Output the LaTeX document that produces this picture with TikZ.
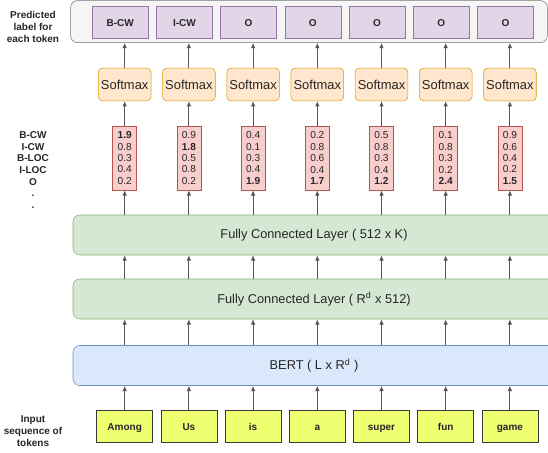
\documentclass[tikz,border=0pt]{standalone}
\usepackage{fontspec}
\setmainfont{Liberation Sans}
\usetikzlibrary{arrows.meta}

\definecolor{outerfill}{HTML}{F5F5F5}
\definecolor{labfill}{HTML}{E1D5E7}
\definecolor{labdraw}{HTML}{9673A6}
\definecolor{softfill}{HTML}{FFE6CC}
\definecolor{softdraw}{HTML}{D79B00}
\definecolor{vecfill}{HTML}{F8CECC}
\definecolor{vecdraw}{HTML}{B85450}
\definecolor{fcfill}{HTML}{D5E8D4}
\definecolor{fcdraw}{HTML}{82B366}
\definecolor{bertfill}{HTML}{DAE8FC}
\definecolor{bertdraw}{HTML}{6C8EBF}
\definecolor{tokfill}{HTML}{EEFF70}
\definecolor{tokdraw}{HTML}{36393D}

\tikzset{
    lab/.style={draw=labdraw, fill=labfill, minimum width=42pt, minimum height=24pt, inner sep=0pt, text height=1.6ex, text depth=0.3ex, font=\bfseries\fontsize{7.5}{9}\selectfont},
    soft/.style={draw=softdraw, fill=softfill, rounded corners=3pt, minimum width=39.5pt, minimum height=24.5pt, inner sep=0pt, font=\fontsize{9.7}{11}\selectfont},
    vec/.style={draw=vecdraw, fill=vecfill, minimum width=18pt, minimum height=48pt, inner sep=0pt, align=center, font=\fontsize{7.6}{8.6}\selectfont},
    layer/.style={rounded corners=5pt, minimum width=361.5pt, minimum height=30pt, inner sep=0pt, font=\fontsize{9.6}{11}\selectfont},
    tok/.style={draw=tokdraw, fill=tokfill, minimum width=42pt, minimum height=24pt, inner sep=0pt, text height=1.6ex, text depth=0.3ex, font=\bfseries\fontsize{7.5}{9}\selectfont},
    side/.style={align=center, font=\bfseries\fontsize{7.5}{8.8}\selectfont},
    arr/.style={draw=black!65, line width=0.75pt, -{Latex[length=4pt,width=3.5pt,fill=black]}}
}

\begin{document}
\begin{tikzpicture}[x=0.75pt, y=-0.75pt, color=black!85]
    \useasboundingbox (0,0) rectangle (548,452);

    % Predicted labels
    \node[draw=black!55, fill=outerfill, rounded corners=5pt, minimum width=357.5pt, minimum height=31.5pt, inner sep=0pt] (out) at (309,21.6) {};
    \node[side] (predtxt) at (33,27) {Predicted\\label for\\each token};

    % Layers
    \node[layer, draw=fcdraw, fill=fcfill] (fcK) at (314,235) {Fully Connected Layer ( 512 x K)};
    \node[layer, draw=fcdraw, fill=fcfill] (fcR) at (314,299) {Fully Connected Layer ( R\textsuperscript{d} x 512)};
    \node[layer, draw=bertdraw, fill=bertfill] (bert) at (314,365.5) {BERT ( L x R\textsuperscript{d} )};

    % Class names and input tokens
    \node[side] (classes) at (33,170) {B-CW\\I-CW\\B-LOC\\I-LOC\\O\\.\\.};
    \node[side] (inptxt) at (33,431) {Input\\sequence of\\tokens};

    \foreach \lb/\tk/\vals [count=\i from 0] in {
        B-CW/Among/{\textbf{1.9}\\0.8\\0.3\\0.4\\0.2},
        I-CW/Us/{0.9\\\textbf{1.8}\\0.5\\0.8\\0.2},
        O/is/{0.4\\0.1\\0.3\\0.4\\\textbf{1.9}},
        O/a/{0.2\\0.8\\0.6\\0.4\\\textbf{1.7}},
        O/super/{0.5\\0.8\\0.3\\0.4\\\textbf{1.2}},
        O/fun/{0.1\\0.8\\0.3\\0.2\\\textbf{2.4}},
        O/game/{0.9\\0.6\\0.4\\0.2\\\textbf{1.5}}} {
        \pgfmathsetmacro{\cx}{124.7+64.2*\i}
        \node[lab] (lab\i) at (\cx-4.5,22) {\lb};
        \node[soft] (soft\i) at (\cx,84.5) {Softmax};
        \node[vec] (vec\i) at (\cx,158) {\vals};
        \node[tok] (tok\i) at (\cx,426) {\tk};
        % Connections
        \draw[arr] (tok\i.north) -- (tok\i.north |- bert.south);
        \draw[arr] (tok\i.north |- bert.north) -- (tok\i.north |- fcR.south);
        \draw[arr] (tok\i.north |- fcR.north) -- (tok\i.north |- fcK.south);
        \draw[arr] (vec\i.south |- fcK.north) -- (vec\i.south);
        \draw[arr] (vec\i.north) -- (soft\i.south);
        \draw[arr] (soft\i.north) -- (soft\i.north |- out.south);
    }
\end{tikzpicture}
\end{document}
